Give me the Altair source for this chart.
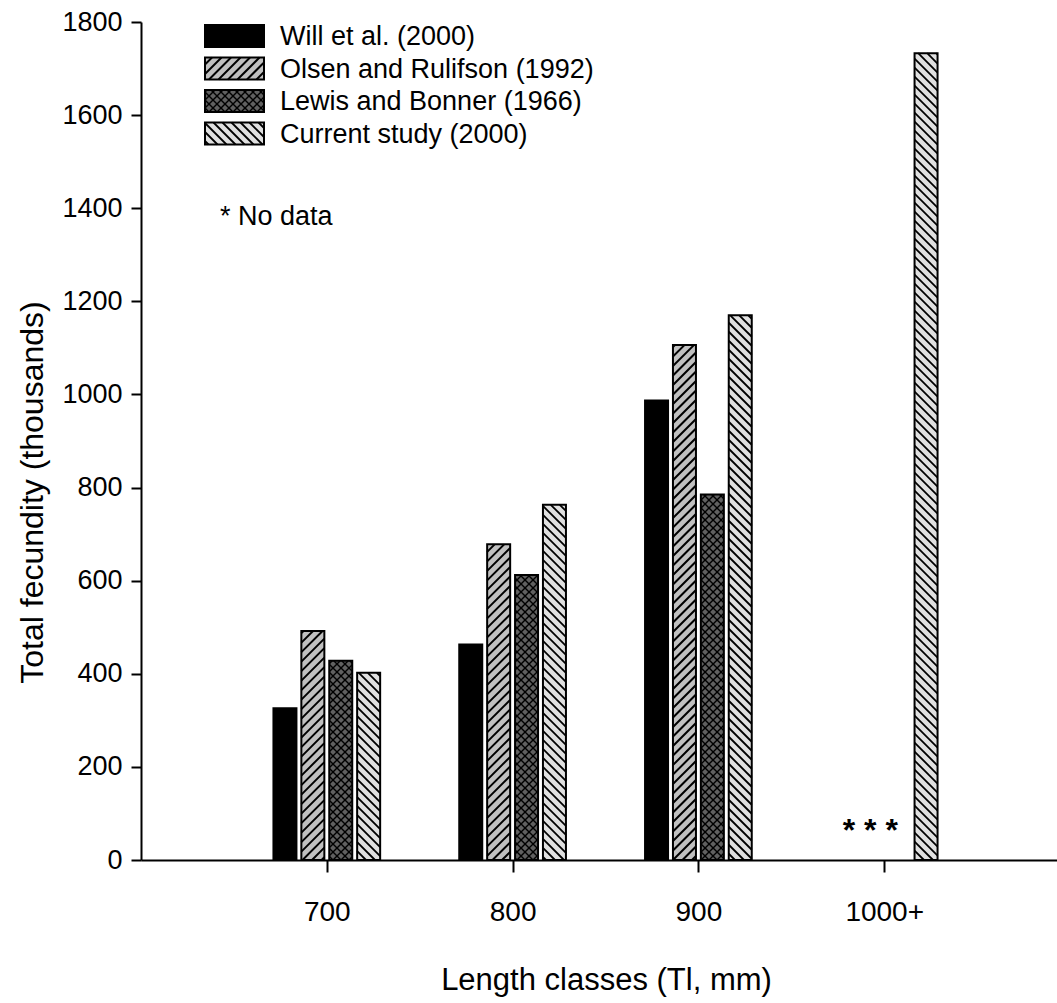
import json
import numpy as np
import pandas as pd
import altair as alt

# ---------------- data ----------------
categories = ["700", "800", "900", "1000+"]
series = ["Will et al. (2000)", "Olsen and Rulifson (1992)",
          "Lewis and Bonner (1966)", "Current study (2000)"]
will_2000 = [326, 463, 987, None]
olsen_1992 = [492, 678, 1106, None]
lewis_1966 = [428, 612, 785, None]
current_2000 = [402, 763, 1170, 1733]
y_ticks = [0, 200, 400, 600, 800, 1000, 1200, 1400, 1600, 1800]
no_data_label = "* * *"
no_data_note = "* No data"

# ---------------- styles ----------------
FONT = "Liberation Sans, Arial, sans-serif"
W, H = 916, 838
XMAX = 4.93
YMAX = 1800
kx = W / XMAX
ky = H / YMAX
PITCH = 27.9 / kx
BARW = 23.0 / kx

styles = [  # fill, hatch directions, spacing px, hatch width
    ("#000000", [], 9, 0),
    ("#c0c0c0", ["/"], 9.5, 2.0),
    ("#606060", ["/", "\\"], 8, 1.4),
    ("#e0e0e0", ["\\"], 9, 1.8),
]


def hatch(x0, x1, y0, y1, dirs, s, sw):
    """diagonal hatch segments inside a rectangle (data units)"""
    X0, X1, Y0, Y1 = x0 * kx, x1 * kx, y0 * ky, y1 * ky
    out = []
    for d in dirs:
        if d == "/":
            cs = np.arange(np.floor((Y0 - X1) / s) * s, Y1 - X0 + s, s)
            for c in cs:
                xs, xe = max(X0, Y0 - c), min(X1, Y1 - c)
                if xe - xs > 0.3:
                    out.append((xs, xs + c, xe, xe + c))
        else:
            cs = np.arange(np.floor((Y0 + X0) / s) * s, Y1 + X1 + s, s)
            for c in cs:
                xs, xe = max(X0, c - Y1), min(X1, c - Y0)
                if xe - xs > 0.3:
                    out.append((xs, c - xs, xe, c - xe))
    return [dict(hx=a / kx, hy=b / ky, hx2=cc / kx, hy2=dd / ky, sw=sw)
            for a, b, cc, dd in out]


values = [will_2000, olsen_1992, lewis_1966, current_2000]
bar_rows, hatch_rows = [], []
for i, cat in enumerate(categories):
    for j, name in enumerate(series):
        v = values[j][i]
        if v is None:
            continue
        xc = (i + 1) + (j - 1.5) * PITCH
        x0, x1 = xc - BARW / 2, xc + BARW / 2
        fill, dirs, s, sw = styles[j]
        bar_rows.append(dict(x0=x0, x1=x1, y0=0, y1=v, fill=fill,
                             series=name, category=cat))
        hatch_rows += hatch(x0, x1, 0, v, dirs, s, sw)

# legend (placed in plot-pixel layout, converted to data units)
leg_x0, leg_x1 = 64, 123
leg_centers = [14, 46.5, 79, 111.5]
leg_h = 22
leg_rows, leg_hatch, leg_text = [], [], []
for j, name in enumerate(series):
    top = leg_centers[j] - leg_h / 2
    bot = leg_centers[j] + leg_h / 2
    x0, x1 = leg_x0 / kx, leg_x1 / kx
    y0, y1 = (H - bot) / ky, (H - top) / ky
    fill, dirs, s, sw = styles[j]
    leg_rows.append(dict(x0=x0, x1=x1, y0=y0, y1=y1, fill=fill))
    leg_hatch += hatch(x0, x1, y0, y1, dirs, s, sw)
    leg_text.append(dict(tx=139 / kx, ty=(H - leg_centers[j] - 1) / ky,
                         label=name))
leg_text.append(dict(tx=79 / kx, ty=(H - 195) / ky, label=no_data_note))

bars = pd.DataFrame(bar_rows)
hatches = pd.DataFrame(hatch_rows + leg_hatch)
legend_boxes = pd.DataFrame(leg_rows)
legend_text = pd.DataFrame(leg_text)
stars = pd.DataFrame([dict(sx=4 - 0.5 * PITCH, sy=19 / ky, label=no_data_label)])

xs = alt.Scale(domain=[0, XMAX], nice=False, zero=False)
ys = alt.Scale(domain=[0, YMAX], nice=False)
label_expr = json.dumps([""] + categories) + "[datum.value]"

x_axis = alt.Axis(values=[1, 2, 3, 4], labelExpr=label_expr, grid=False,
                  tickSize=12, tickWidth=2, tickColor="black",
                  domainWidth=2, domainColor="black",
                  labelFont=FONT, labelFontSize=28, labelColor="black",
                  labelBaseline="alphabetic", labelPadding=48,
                  title="Length classes (Tl, mm)", titleFont=FONT,
                  titleFontSize=31, titleFontWeight="normal",
                  titleColor="black", titleX=465, titleY=129,
                  titleBaseline="alphabetic", titleAlign="center")
y_axis = alt.Axis(values=y_ticks, format="d", grid=False, tickSize=10,
                  tickWidth=2, tickColor="black", domainWidth=2,
                  domainColor="black",
                  labelFont=FONT, labelFontSize=27, labelColor="black",
                  labelPadding=9, labelBaseline="middle",
                  title="Total fecundity (thousands)", titleFont=FONT,
                  titleFontSize=32, titleFontWeight="normal",
                  titleColor="black", titleAngle=270, titleX=-99,
                  titleY=470, titleBaseline="alphabetic",
                  titleAlign="center")


def enc_rect(ch):
    return ch.encode(
        x=alt.X("x0:Q", scale=xs, axis=x_axis), x2="x1:Q",
        y=alt.Y("y1:Q", scale=ys, axis=y_axis), y2="y0:Q",
    )


base_bars = enc_rect(alt.Chart(bars).mark_rect(strokeWidth=0)).encode(
    fill=alt.Fill("fill:N", scale=None))

leg_fill = enc_rect(alt.Chart(legend_boxes).mark_rect(strokeWidth=0)).encode(
    fill=alt.Fill("fill:N", scale=None))

hatch_layer = alt.Chart(hatches).mark_rule(color="black", strokeCap="butt").encode(
    x=alt.X("hx:Q", scale=xs, axis=x_axis),
    y=alt.Y("hy:Q", scale=ys, axis=y_axis),
    x2="hx2:Q",
    y2="hy2:Q",
    strokeWidth=alt.StrokeWidth("sw:Q", scale=None),
)

outline = enc_rect(alt.Chart(bars).mark_rect(fillOpacity=0, stroke="black",
                                              strokeWidth=2))
leg_outline = enc_rect(alt.Chart(legend_boxes).mark_rect(
    fillOpacity=0, stroke="black", strokeWidth=2))

leg_labels = alt.Chart(legend_text).mark_text(
    align="left", baseline="middle", font=FONT, fontSize=27, color="black"
).encode(
    x=alt.X("tx:Q", scale=xs, axis=x_axis),
    y=alt.Y("ty:Q", scale=ys, axis=y_axis),
    text="label:N",
)
star_text = alt.Chart(stars).mark_text(
    align="center", baseline="alphabetic", font=FONT, fontSize=32,
    fontWeight="bold", color="black"
).encode(
    x=alt.X("sx:Q", scale=xs, axis=x_axis),
    y=alt.Y("sy:Q", scale=ys, axis=y_axis),
    text="label:N",
)

chart = alt.layer(
    base_bars, leg_fill, hatch_layer, outline, leg_outline, leg_labels, star_text
).properties(
    width=W, height=H,
    padding={"left": 141, "top": 22, "right": 0, "bottom": 143},
    autosize=alt.AutoSizeParams(type="none"),
    background="white",
).configure_view(stroke=None)

chart.save("out.html", embed_options={"renderer": "svg", "actions": False})
